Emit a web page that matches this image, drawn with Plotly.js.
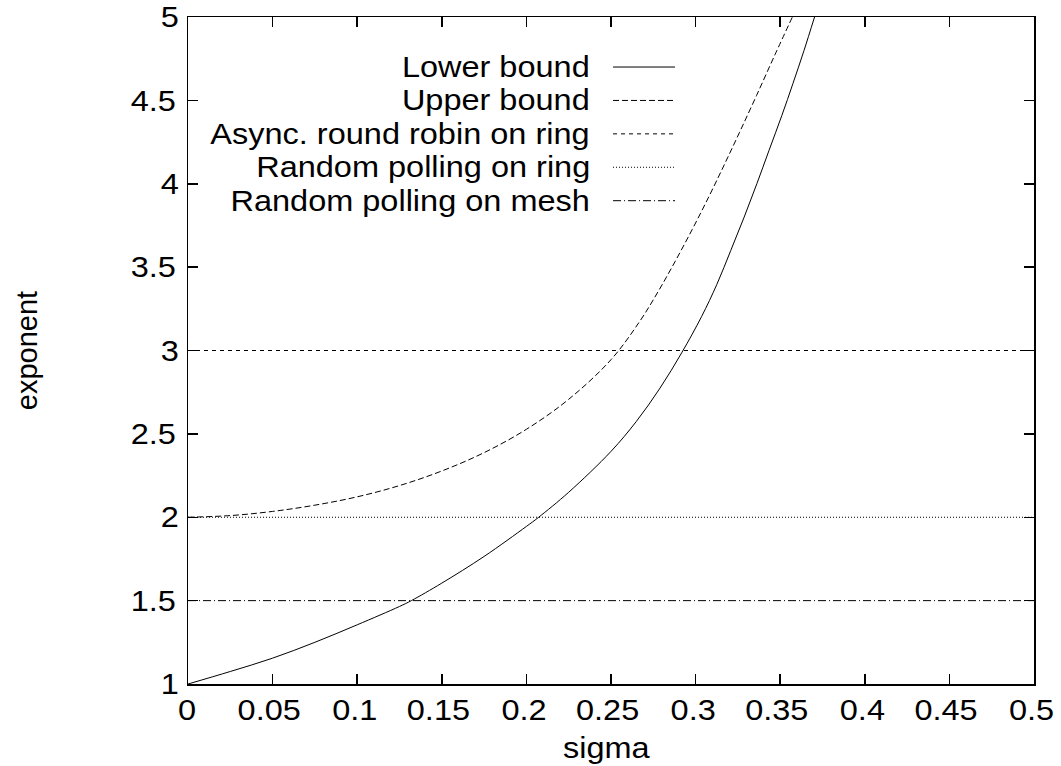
<!DOCTYPE html>
<html>
<head>
<meta charset="utf-8">
<script src="https://cdn.plot.ly/plotly-3.0.1.min.js"></script>
<style>html,body{margin:0;padding:0;background:#fff;}#chart{width:1061px;height:766px;}</style>
</head>
<body>
<div id="chart"></div>
<script>
// Lower bound curve
const lowerSigma = [0, 0.025, 0.05, 0.075, 0.1, 0.125, 0.132, 0.15, 0.175, 0.2, 0.207, 0.225, 0.25, 0.265, 0.279, 0.292, 0.3036, 0.3125, 0.3208, 0.3287, 0.3362, 0.3434, 0.351, 0.3575, 0.3641, 0.3703];
const lowerExp   = [1.0, 1.075, 1.155, 1.25, 1.355, 1.465, 1.5, 1.605, 1.765, 1.945, 1.998, 2.15, 2.395, 2.575, 2.775, 2.99, 3.205, 3.395, 3.60, 3.80, 4.0, 4.2, 4.41, 4.60, 4.80, 5.0];
// Upper bound curve
const upperSigma = [0, 0.025, 0.05, 0.075, 0.1, 0.125, 0.15, 0.175, 0.2, 0.225, 0.25, 0.267, 0.278, 0.288, 0.298, 0.308, 0.317, 0.326, 0.336, 0.347, 0.3572];
const upperExp   = [2.0, 2.01, 2.035, 2.0725, 2.1225, 2.19, 2.2775, 2.3875, 2.5275, 2.7075, 2.945, 3.175, 3.356, 3.536, 3.726, 3.926, 4.115, 4.309, 4.529, 4.776, 5.0];
// Constant exponents
const sigmaSpan = [0, 0.5];
const asyncRingExp = 3;
const randRingExp = 2;
const randMeshExp = 1.5;
// Labels
const seriesNames = ["Lower bound", "Upper bound", "Async. round robin on ring", "Random polling on ring", "Random polling on mesh"];
const xTicks = [0, 0.05, 0.1, 0.15, 0.2, 0.25, 0.3, 0.35, 0.4, 0.45, 0.5];
const yTicks = [1, 1.5, 2, 2.5, 3, 3.5, 4, 4.5, 5];

const dashes = ["solid", "6px,3px", "4px,4px", "1px,2px", "8px,3px,1px,3px"];
const lineCol = "#000";
const FONT = "Liberation Sans, Arial, Helvetica, sans-serif";
const FS = 29;
const STRETCH = 1.12;

const traces = [
  {x: lowerSigma, y: lowerExp, mode: "lines", line: {color: lineCol, width: 1, dash: dashes[0], shape: "spline", smoothing: 1}, name: seriesNames[0]},
  {x: upperSigma, y: upperExp, mode: "lines", line: {color: lineCol, width: 1, dash: dashes[1], shape: "spline", smoothing: 1}, name: seriesNames[1]},
  {x: sigmaSpan, y: sigmaSpan.map(() => asyncRingExp), mode: "lines", line: {color: lineCol, width: 1, dash: dashes[2]}, name: seriesNames[2]},
  {x: sigmaSpan, y: sigmaSpan.map(() => randRingExp), mode: "lines", line: {color: lineCol, width: 1, dash: dashes[3]}, name: seriesNames[3]},
  {x: sigmaSpan, y: sigmaSpan.map(() => randMeshExp), mode: "lines", line: {color: lineCol, width: 1, dash: dashes[4]}, name: seriesNames[4]}
];

// custom gnuplot-style legend: right-aligned text, sample line on the right
const legTop = 0.925, legStep = 0.0501;
const annotations = [], shapes = [];
seriesNames.forEach((n, i) => {
  const yy = legTop - i * legStep;
  annotations.push({xref: "paper", yref: "paper", x: 0.4775, y: yy, xanchor: "right", yanchor: "middle",
    text: n, showarrow: false, font: {family: FONT, size: FS, color: "#000"}});
  shapes.push({type: "line", xref: "paper", yref: "paper", x0: 0.5024, x1: 0.5757, y0: yy, y1: yy,
    line: {color: lineCol, width: 1, dash: dashes[i]}});
});

const axisCommon = {
  showgrid: false, zeroline: false, showline: true, linecolor: "#000", linewidth: 1.5,
  mirror: "ticks", ticks: "inside", ticklen: 10, tickwidth: 1.5, tickcolor: "#000",
  tickfont: {family: FONT, size: FS, color: "#000"}
};

const layout = {
  width: 1061, height: 766,
  margin: {l: 188, r: 27, t: 17, b: 82},
  paper_bgcolor: "#fff", plot_bgcolor: "#fff",
  showlegend: false,
  xaxis: Object.assign({}, axisCommon, {
    range: [0, 0.5], tickvals: xTicks, ticktext: xTicks.map(String),
    title: {text: "sigma", standoff: 12, font: {family: FONT, size: FS, color: "#000"}}
  }),
  yaxis: Object.assign({}, axisCommon, {
    range: [1, 5], tickvals: yTicks, ticktext: yTicks.map(String),
    title: {text: "exponent", standoff: 94, font: {family: FONT, size: FS, color: "#000"}}
  }),
  annotations: annotations,
  shapes: shapes
};

Plotly.newPlot("chart", traces, layout, {displayModeBar: false, staticPlot: true}).then(() => {
  // the reference typeface is slightly wider than Helvetica: stretch horizontal text,
  // then shift so each label keeps its anchor point (rotated title left as is)
  document.querySelectorAll("#chart svg text").forEach(t => {
    const tr = t.getAttribute("transform") || "";
    if (tr.indexOf("rotate") >= 0) return;
    const w = t.getComputedTextLength();
    if (!(w > 0)) return;
    const anchor = t.getAttribute("text-anchor") || getComputedStyle(t).textAnchor || "start";
    const extra = w * (STRETCH - 1);
    t.setAttribute("textLength", (w * STRETCH).toFixed(1));
    t.setAttribute("lengthAdjust", "spacingAndGlyphs");
    let dx = 0;
    if (anchor === "end") dx = -extra;
    else if (anchor === "middle") dx = -extra / 2;
    if (dx !== 0) {
      const nodes = [t].concat(Array.from(t.querySelectorAll("tspan")));
      nodes.forEach(n => {
        const xs = n.getAttribute("x");
        if (xs !== null && xs !== "") n.setAttribute("x", (parseFloat(xs) + dx).toFixed(2));
      });
    }
  });
});
</script>
</body>
</html>
